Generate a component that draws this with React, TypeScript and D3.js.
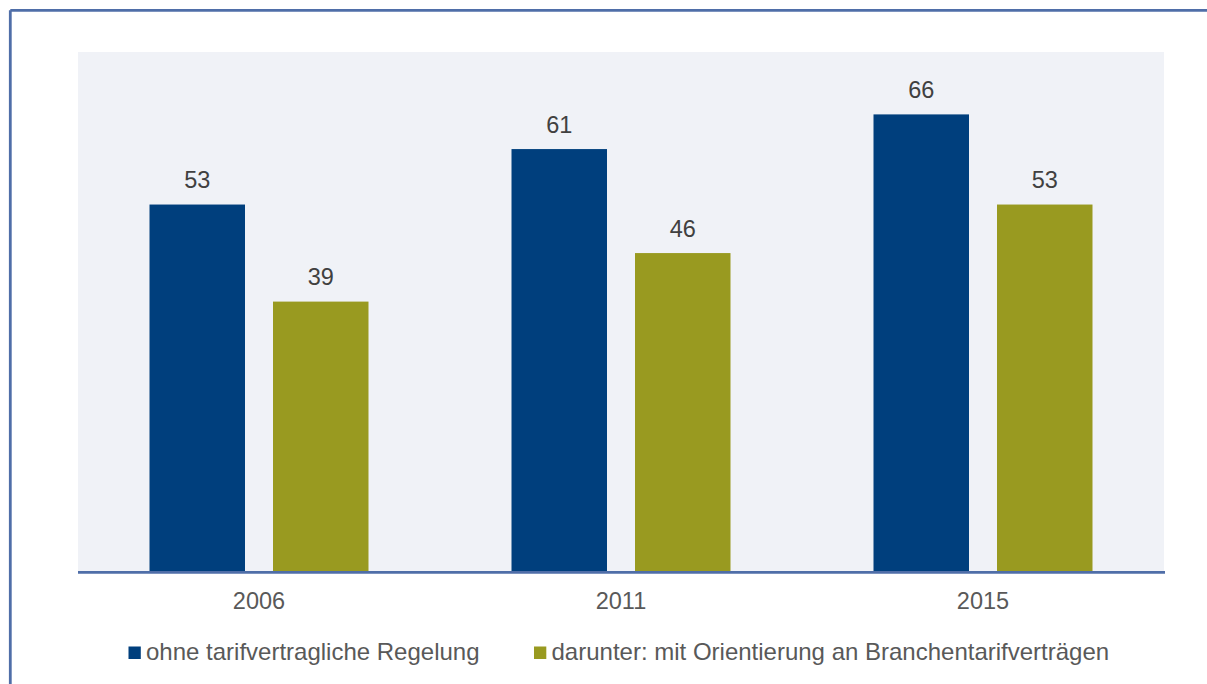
import React from "react";
import * as d3 from "d3";

const years = ["2006", "2011", "2015"];
const seriesNames = [
  "ohne tarifvertragliche Regelung",
  "darunter: mit Orientierung an Branchentarifverträgen",
];
const ohneValues = [53, 61, 66];
const darunterValues = [39, 46, 53];
const seriesColors = ["#003f7d", "#999a20"];

const W = 1207;
const H = 684;
const plotLeft = 78;
const plotRight = 1164;
const plotTop = 52;
const baseY = 572;

export default function App() {
  const x0 = d3.scaleBand<string>().domain(years).range([plotLeft, plotRight]).padding(0);
  const x1 = d3
    .scaleBand<string>()
    .domain(["a", "b"])
    .range([71.5, 290.5])
    .paddingInner(0.2267)
    .paddingOuter(0);
  const y = d3.scaleLinear().domain([0, 75]).range([baseY, plotTop]);
  const series = [ohneValues, darunterValues];
  const keys = ["a", "b"];
  const font = "'Liberation Sans', Arial, Helvetica, sans-serif";

  return (
    <div style={{ position: "absolute", left: 0, top: 0, width: W, height: H, background: "#fff" }}>
      <svg width={W} height={H} style={{ display: "block" }}>
        <rect x={0} y={0} width={W} height={H} fill="#ffffff" />
        {/* border (top and left) */}
        <line x1={10.3} y1={10.3} x2={W} y2={10.3} stroke="#4f6ea8" strokeWidth={2.8} />
        <line x1={10.3} y1={10.3} x2={10.3} y2={H} stroke="#4f6ea8" strokeWidth={2.8} />
        {/* plot background */}
        <rect x={plotLeft} y={plotTop} width={plotRight - plotLeft} height={baseY - plotTop} fill="#f0f2f7" />
        {years.map((yr, i) => (
          <g key={yr} transform={`translate(${x0(yr)},0)`}>
            {series.map((vals, s) => {
              const bx = x1(keys[s])!;
              const bw = x1.bandwidth();
              const top = y(vals[i]);
              return (
                <g key={s}>
                  <rect x={bx} y={top} width={bw} height={y(0) - top} fill={seriesColors[s]} />
                  <text
                    x={bx + bw / 2}
                    y={top - 16.5}
                    textAnchor="middle"
                    fontFamily={font}
                    fontSize={23.5}
                    fill="#404040"
                  >
                    {vals[i]}
                  </text>
                </g>
              );
            })}
            <text
              x={x0.bandwidth() / 2}
              y={609}
              textAnchor="middle"
              fontFamily={font}
              fontSize={23.5}
              fill="#595959"
            >
              {yr}
            </text>
          </g>
        ))}
        {/* axis line */}
        <line x1={plotLeft} y1={baseY + 0.3} x2={plotRight + 1} y2={baseY + 0.3} stroke="#4f6ea8" strokeWidth={2.7} />
        {/* legend */}
        {seriesNames.map((name, s) => {
          const lx = s === 0 ? 128.5 : 534;
          return (
            <g key={name}>
              <rect x={lx} y={646.5} width={12.3} height={12.5} fill={seriesColors[s]} />
              <text x={lx + 17.5} y={659.5} fontFamily={font} fontSize={24} fill="#595959">
                {name}
              </text>
            </g>
          );
        })}
      </svg>
    </div>
  );
}
